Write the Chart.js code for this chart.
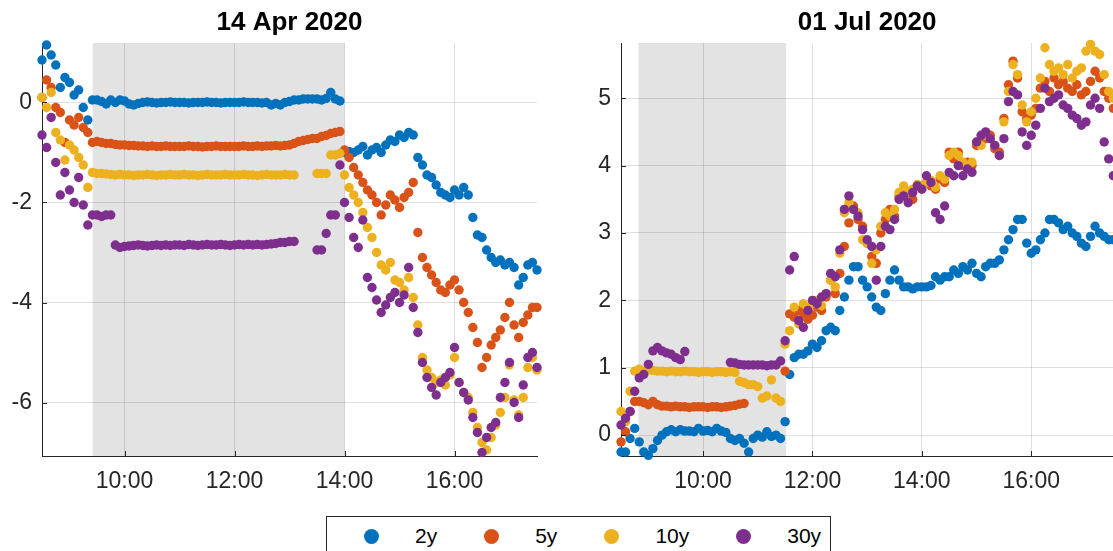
<!DOCTYPE html>
<html>
<head>
<meta charset="utf-8">
<script src="https://cdn.jsdelivr.net/npm/chart.js@4/dist/chart.umd.min.js"></script>
<style>
  body { margin: 0; background: #fff; overflow: hidden; width: 1113px; height: 551px; position: relative; }
  canvas { position: absolute; top: 0; }
  #left { left: 0; }
  #right { left: 556px; }
  #legend {
    position: absolute; left: 326px; top: 516px; width: 505px; height: 40px;
    border: 1px solid #262626; background: #fff; box-sizing: border-box;
    display: flex; align-items: center; padding-left: 37px;
    font: 21px "Liberation Sans", Arial, sans-serif; color: #000;
  }
  .mk { flex: none; width: 15px; height: 15px; border-radius: 50%; margin-right: 36px; }
  .lb { flex: none; margin-right: 47px; }
</style>
</head>
<body>
<canvas id="left" width="556" height="551"></canvas>
<canvas id="right" width="562" height="551"></canvas>
<div id="legend"></div>
<script>
// series names + MATLAB default colours
const seriesNames = ['2y', '5y', '10y', '30y'];
const seriesColors = ['#0072BD', '#D95319', '#EDB120', '#7E2F8E'];

// 5 minute sampling, 08:30 .. 17:30 (hours as decimals)
const times = [];
for (let m = 510; m <= 1050; m += 5) times.push(m / 60);

// 14 Apr 2020
const aprY2 = [
  0.85, 1.15, 0.95, 0.75, 0.3, 0.5,
  0.4, 0.15, 0.25, -0.1, -0.35, 0.05, 0.05, 0.02, -0.03, 0.05, 0.0, 0.05,
  0.03, -0.03, -0.05, -0.02, 0.0, 0.01, 0.0, -0.01, 0.0, 0.0, 0.01, 0.0,
  0.0, 0.0, -0.01, 0.0, 0.0, 0.0, 0.01, 0.0, 0.0, -0.01, 0.0, 0.0,
  0.0, 0.0, 0.01, 0.0, 0.0, 0.0, -0.01, 0.0, -0.05, -0.02, -0.05, 0.0,
  0.02, 0.05, 0.05, 0.07, 0.07, 0.07, 0.07, 0.05, 0.08, 0.2, 0.07, 0.03,
  -1.0, -0.98, -1.0, -0.95, -0.88, -1.05, -0.95, -0.9, -1.0, -0.85, -0.75, -0.78,
  -0.65, -0.7, -0.6, -0.65, -1.1, -1.25, -1.45, -1.5, -1.65, -1.8, -1.85, -1.9,
  -1.75, -1.85, -1.7, -1.85, -2.3, -2.65, -2.7, -2.95, -3.1, -3.2, -3.15, -3.25,
  -3.2, -3.3, -3.65, -3.5, -3.25, -3.2, -3.35
];
const aprY5 = [
  0.1, 0.45, 0.3, -0.1, -0.2, -0.8,
  -0.35, -0.45, -0.3, -0.5, -0.6, -0.8, -0.78, -0.8, -0.82, -0.82, -0.84, -0.85,
  -0.85, -0.86, -0.86, -0.87, -0.87, -0.88, -0.87, -0.88, -0.88, -0.87, -0.88, -0.88,
  -0.88, -0.88, -0.87, -0.88, -0.88, -0.89, -0.88, -0.88, -0.87, -0.88, -0.88, -0.88,
  -0.88, -0.88, -0.87, -0.88, -0.88, -0.87, -0.88, -0.87, -0.87, -0.86, -0.87, -0.86,
  -0.85, -0.82, -0.78, -0.76, -0.74, -0.72, -0.72, -0.68, -0.66, -0.62, -0.6, -0.58,
  -0.95, -1.1, -1.3, -1.45, -1.6, -1.75, -1.85, -2.0, -2.25, -2.05, -1.85, -1.95,
  -2.1, -1.9, -1.8, -1.6, -2.6, -3.1, -3.3, -3.45, -3.6, -3.75, -3.8, -3.65,
  -3.55, -3.75, -4.0, -4.2, -4.5, -4.8, -5.3, -5.1, -4.85, -4.7, -4.55, -4.3,
  -4.0, -4.45, -4.7, -4.4, -4.25, -4.1, -4.1
];
const aprY10 = [
  0.1, -0.1, 0.2, -0.6, -0.75, -1.15,
  -0.85, -0.95, -1.1, -1.25, -1.7, -1.4, -1.42, -1.42, -1.43, -1.44, -1.45, -1.44,
  -1.45, -1.45, -1.46, -1.45, -1.45, -1.44, -1.45, -1.46, -1.45, -1.45, -1.44, -1.45,
  -1.45, -1.44, -1.45, -1.45, -1.46, -1.45, -1.44, -1.45, -1.45, -1.45, -1.44, -1.45,
  -1.45, -1.45, -1.44, -1.45, -1.45, -1.46, -1.45, -1.44, -1.45, -1.45, -1.45, -1.44,
  -1.45, -1.45, null, null, null, null, -1.42, -1.42, -1.42, -1.05, -1.05, -1.02,
  -1.45, -1.7, -1.85, -2.0, -2.2, -2.5, -2.7, -3.0, -3.25, -3.35, -3.2, -3.55,
  -3.6, -3.75, -3.5, -3.9, -4.45, -5.1, -5.35, -5.5, -5.6, -5.55, -5.65, -5.45,
  -5.1, -5.6, -5.8, -5.9, -6.2, -6.5, -6.8, -6.95, -6.7, -6.45, -6.2, -5.9,
  -5.25, -5.95, -6.25, -5.9, -5.3, -5.1, -5.35
];
const aprY30 = [
  -0.65, -0.9, -0.3, -1.2, -1.85, -1.4,
  -1.75, -2.0, -1.5, -2.05, -2.45, -2.25, -2.25, -2.28, -2.25, -2.25, -2.85, -2.9,
  -2.88, -2.87, -2.86, -2.85, -2.86, -2.87, -2.86, -2.85, -2.86, -2.85, -2.86, -2.85,
  -2.85, -2.86, -2.84, -2.85, -2.86, -2.85, -2.84, -2.85, -2.85, -2.84, -2.85, -2.86,
  -2.85, -2.84, -2.85, -2.84, -2.85, -2.84, -2.85, -2.84, -2.83, -2.82, -2.8, -2.8,
  -2.78, -2.78, null, null, null, null, -2.95, -2.95, -2.62, -2.25, -2.25, -1.25,
  -2.0, -2.3, -2.7, -2.9, -2.35, -3.5, -3.7, -3.95, -4.2, -4.05, -3.9, -3.8,
  -4.0, -3.85, -3.3, -4.1, -4.6, -5.2, -5.5, -5.7, -5.85, -5.6, -5.5, -5.4,
  -4.9, -5.6, -5.8, -5.95, -6.3, -6.6, -7.0, -6.7, -6.5, -6.4, -5.9, -5.6,
  -5.2, -6.0, -6.3, -5.65, -5.1, -5.0, -5.3
];

// 01 Jul 2020
const julY2 = [
  -0.25, -0.25, -0.05, 0.1, -0.1, -0.25,
  -0.3, -0.2, -0.08, 0.0, 0.05, 0.08, 0.05, 0.08, 0.06, 0.06, 0.05, 0.1,
  0.06, 0.07, 0.05, 0.1, 0.06, 0.04, -0.05, -0.08, -0.05, -0.12, -0.25, -0.05,
  0.0, -0.03, 0.05, -0.02, 0.0, -0.05, 0.2, 0.9, 1.15, 1.2, 1.2, 1.25,
  1.35, 1.3, 1.4, 1.55, 1.6, 1.55, 1.85, 2.05, 2.3, 2.5, 2.5, 2.3,
  2.2, 2.05, 1.9, 1.85, 2.1, 2.3, 2.45, 2.3, 2.2, 2.2, 2.17, 2.2,
  2.2, 2.2, 2.22, 2.35, 2.3, 2.35, 2.35, 2.45, 2.4, 2.5, 2.45, 2.55,
  2.4, 2.35, 2.5, 2.55, 2.55, 2.6, 2.75, 2.9, 3.05, 3.2, 3.2, 2.85,
  2.7, 2.75, 2.9, 3.0, 3.2, 3.2, 3.15, 3.05, 3.1, 3.0, 2.95, 2.85,
  2.8, 2.95, 3.1, 3.0, 2.95, 2.9, 2.9
];
const julY5 = [
  -0.1, 0.05, 0.35, 0.5, 0.5, 0.48,
  0.45, 0.5, 0.45, 0.43, 0.43, 0.42, 0.43, 0.42, 0.42, 0.41, 0.42, 0.42,
  0.42, 0.41, 0.42, 0.42, 0.41, 0.42, 0.43, 0.44, 0.46, 0.47, null, null,
  null, null, null, null, null, null, 0.95, 1.8, 1.75, 1.85, 1.8, 1.72,
  1.78, 1.9, 1.85, 2.05, 2.3, 2.1, 2.4, 2.8, 3.15, 3.4, 3.2, 3.1,
  2.85, 2.65, 2.55, 3.0, 3.2, 3.35, 3.25, 3.55, 3.6, 3.6, 3.5, 3.7,
  3.7, 3.75, 3.7, 3.65, 3.8, 3.75, 4.2, 4.1, 4.2, 4.0, 4.05, 4.0,
  4.3, 4.35, 4.4, 4.45, 4.25, 4.2, 4.7, 5.2, 5.55, 5.3, 4.8, 4.7,
  4.75, 4.85, 5.15, 5.25, 5.1, 5.3, 5.2, 5.25, 5.15, 5.1, 5.2, 5.05,
  5.1, 5.25, 5.4, 5.3, 5.1, 5.0, 4.85
];
const julY10 = [
  0.35, 0.2, 0.65, 0.95, 0.98, 0.95,
  0.97, 0.96, 0.95, 0.95, 0.94, 0.95, 0.94, 0.94, 0.95, 0.94, 0.94, 0.93,
  0.94, 0.94, 0.93, 0.94, 0.94, 0.93, 0.94, 0.93, 0.8, 0.78, 0.75, 0.75,
  0.72, 0.55, 0.58, 0.82, 0.55, 0.5, 1.35, 1.55, 1.9, 1.65, 1.95, 1.9,
  1.95, 2.0, 1.92, 2.1, 2.3, 2.2, 2.7, 3.3, 3.45, 3.35, 3.3, 2.9,
  2.85, 2.55, 2.75, 3.1, 3.3, 3.25, 3.35, 3.6, 3.7, 3.62, 3.65, 3.72,
  3.7, 3.75, 3.78, 3.68, 3.85, 3.8, 4.15, 4.2, 4.15, 4.05, 4.0, 4.05,
  4.35, 4.3, 4.45, 4.4, 4.3, 4.15, 4.65, 5.1, 5.5, 5.35, 4.9, 4.65,
  4.8, 5.0, 5.3, 5.75, 5.5, 5.4, 5.45, 5.35, 5.5, 5.3, 5.4, 5.45,
  5.7, 5.8, 5.7, 5.65, 5.35, 5.1, 5.0
];
const julY30 = [
  0.15, 0.25, 0.35, 0.65, 0.85, 0.9,
  1.05, 1.25, 1.3, 1.25, 1.22, 1.2, 1.15, 1.12, 1.24, null, null, null,
  null, null, null, null, null, null, 1.08, 1.07, 1.05, 1.04, 1.04, 1.04,
  1.04, 1.04, 1.03, 1.04, 1.04, 1.1, 1.4, 2.45, 2.65, 1.7, 1.6, 1.85,
  2.0, 1.95, 2.05, 2.1, 2.4, 2.35, 2.75, 3.35, 3.55, 3.35, 3.25, 3.05,
  2.9, 2.8, 2.3, 2.8, 3.1, 3.05, 3.2, 3.5, 3.55, 3.45, 3.6, 3.7,
  3.65, 3.85, 3.75, 3.3, 3.2, 3.4, 3.9, 3.85, 4.0, 3.85, 3.95, 3.9,
  4.35, 4.45, 4.5, 4.4, 4.3, 4.15, 4.4, 4.95, 5.1, 5.05, 4.5, 4.3,
  4.45, 4.6, 4.85, 5.15, 4.95, 5.0, 5.05, 4.9, 4.85, 4.75, 4.7, 4.6,
  4.65, 4.9, 5.0, 4.85, 4.35, 4.1, 3.85
];

const xTicks = [10, 12, 14, 16];
const aprYTicks = [-6, -4, -2, 0];
const julYTicks = [0, 1, 2, 3, 4, 5];
const aprShade = [9.42, 14.0];   // shaded window, hours
const julShade = [8.82, 11.52];

const FONT = '"Liberation Sans", Arial, Helvetica, sans-serif';
const axisColor = '#262626';
const gridColor = 'rgba(38,38,38,0.15)';

// grey background band, drawn before grid
const shadePlugin = {
  id: 'shade',
  beforeDraw(chart, args, opts) {
    const { ctx, chartArea, scales } = chart;
    const x0 = scales.x.getPixelForValue(opts.range[0]);
    const x1 = scales.x.getPixelForValue(opts.range[1]);
    ctx.save();
    ctx.fillStyle = '#e3e3e3';
    ctx.fillRect(x0, chartArea.top, x1 - x0, chartArea.bottom - chartArea.top);
    ctx.restore();
  }
};

// matlab style: ticks point into the axes, bold title above
const axesPlugin = {
  id: 'axesDeco',
  afterDraw(chart, args, opts) {
    const { ctx, chartArea, scales } = chart;
    ctx.save();
    ctx.strokeStyle = axisColor;
    ctx.lineWidth = 1;
    ctx.beginPath();
    scales.x.ticks.forEach(t => {
      const px = Math.round(scales.x.getPixelForValue(t.value)) + 0.5;
      ctx.moveTo(px, chartArea.bottom);
      ctx.lineTo(px, chartArea.bottom - 5);
    });
    scales.y.ticks.forEach(t => {
      const py = Math.round(scales.y.getPixelForValue(t.value)) + 0.5;
      ctx.moveTo(chartArea.left, py);
      ctx.lineTo(chartArea.left + 5, py);
    });
    ctx.stroke();

    ctx.fillStyle = '#000';
    ctx.font = 'bold 26px ' + FONT;
    ctx.textAlign = 'center';
    ctx.textBaseline = 'middle';
    ctx.fillText(opts.title, (chartArea.left + chartArea.right) / 2, 23);
    ctx.restore();
  }
};

function makeChart(id, title, seriesList, yMin, yMax, yTicks, shade, yAxisWidth, padRight) {
  // purple drawn last (on top), as in the original
  const datasets = seriesList.map((vals, i) => ({
    label: seriesNames[i],
    data: times.map((t, k) => ({ x: t, y: vals[k] })).filter(p => p.y !== null),
    backgroundColor: seriesColors[i],
    borderColor: seriesColors[i],
    pointRadius: 4.7,
    pointHoverRadius: 4.7,
    pointBorderWidth: 0,
    showLine: false,
    clip: false,
    order: seriesList.length - i
  }));

  return new Chart(document.getElementById(id), {
    type: 'scatter',
    data: { datasets: datasets },
    plugins: [shadePlugin, axesPlugin],
    options: {
      responsive: false,
      animation: false,
      events: [],
      layout: { padding: { top: 43, left: 0, right: padRight, bottom: 55 } },
      plugins: {
        legend: { display: false },
        tooltip: { enabled: false },
        title: { display: false },
        shade: { range: shade },
        axesDeco: { title: title }
      },
      scales: {
        x: {
          type: 'linear',
          min: 8.5,
          max: 17.5,
          afterBuildTicks: s => { s.ticks = xTicks.map(v => ({ value: v })); },
          afterFit: s => { s.height = 40; },
          grid: { color: gridColor, drawTicks: false },
          border: { color: axisColor, width: 1 },
          ticks: {
            color: axisColor,
            font: { family: FONT, size: 23 },
            padding: 12,
            maxRotation: 0,
            autoSkip: false,
            callback: v => v + ':00'
          }
        },
        y: {
          min: yMin,
          max: yMax,
          afterBuildTicks: s => { s.ticks = yTicks.map(v => ({ value: v })); },
          afterFit: s => { s.width = yAxisWidth; },
          grid: { color: gridColor, drawTicks: false },
          border: { color: axisColor, width: 1 },
          ticks: {
            color: axisColor,
            font: { family: FONT, size: 23 },
            padding: 10,
            autoSkip: false,
            callback: v => String(v)
          }
        }
      }
    }
  });
}

makeChart('left', '14 Apr 2020', [aprY2, aprY5, aprY10, aprY30], -7.07, 1.19, aprYTicks, aprShade, 42, 19);
makeChart('right', '01 Jul 2020', [julY2, julY5, julY10, julY30], -0.31, 5.82, julYTicks, julShade, 65, 4);

// shared legend under both plots
const legend = document.getElementById('legend');
seriesNames.forEach((name, i) => {
  const mk = document.createElement('span');
  mk.className = 'mk';
  mk.style.background = seriesColors[i];
  const lb = document.createElement('span');
  lb.className = 'lb';
  lb.textContent = name;
  legend.appendChild(mk);
  legend.appendChild(lb);
});
</script>
</body>
</html>
